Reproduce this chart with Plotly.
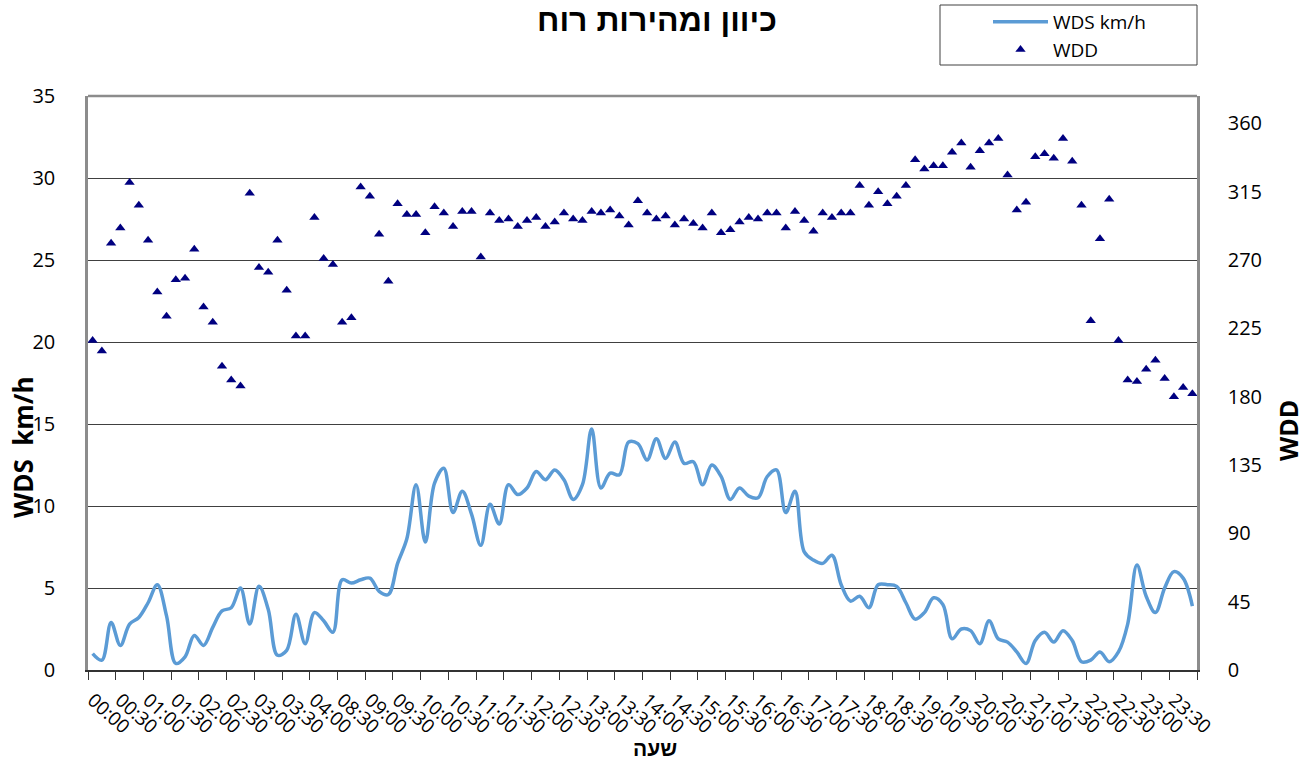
import plotly.graph_objects as go

# 10-minute categories (data gap between 04:20 and 08:30)
times = [
    "00:00", "00:10", "00:20", "00:30", "00:40", "00:50", "01:00", "01:10", "01:20",
    "01:30", "01:40", "01:50", "02:00", "02:10", "02:20", "02:30", "02:40", "02:50",
    "03:00", "03:10", "03:20", "03:30", "03:40", "03:50", "04:00", "04:10", "04:20",
    "08:30", "08:40", "08:50", "09:00", "09:10", "09:20", "09:30", "09:40", "09:50",
    "10:00", "10:10", "10:20", "10:30", "10:40", "10:50", "11:00", "11:10", "11:20",
    "11:30", "11:40", "11:50", "12:00", "12:10", "12:20", "12:30", "12:40", "12:50",
    "13:00", "13:10", "13:20", "13:30", "13:40", "13:50", "14:00", "14:10", "14:20",
    "14:30", "14:40", "14:50", "15:00", "15:10", "15:20", "15:30", "15:40", "15:50",
    "16:00", "16:10", "16:20", "16:30", "16:40", "16:50", "17:00", "17:10", "17:20",
    "17:30", "17:40", "17:50", "18:00", "18:10", "18:20", "18:30", "18:40", "18:50",
    "19:00", "19:10", "19:20", "19:30", "19:40", "19:50", "20:00", "20:10", "20:20",
    "20:30", "20:40", "20:50", "21:00", "21:10", "21:20", "21:30", "21:40", "21:50",
    "22:00", "22:10", "22:20", "22:30", "22:40", "22:50", "23:00", "23:10", "23:20",
    "23:30", "23:40", "23:50",
]

# Wind speed, km/h (left axis)
wds = [
    1.0, 0.6, 2.9, 1.5, 2.8, 3.2, 4.1, 5.2, 3.3, 0.4,
    0.8, 2.1, 1.5, 2.6, 3.6, 3.8, 5.0, 2.8, 5.1, 3.7,
    0.9, 1.2, 3.4, 1.6, 3.5, 3.0, 2.3, 5.5, 5.3, 5.5,
    5.6, 4.8, 4.6, 6.5, 8.0, 11.3, 7.8, 11.4, 12.3, 9.6,
    10.9, 9.5, 7.6, 10.1, 8.9, 11.3, 10.7, 11.1, 12.1, 11.6,
    12.2, 11.6, 10.4, 11.3, 14.7, 11.1, 12.0, 11.9, 13.9, 13.8,
    12.8, 14.1, 12.9, 13.9, 12.6, 12.7, 11.3, 12.5, 11.8, 10.4,
    11.1, 10.6, 10.5, 11.8, 12.2, 9.6, 10.9, 7.2, 6.7, 6.5,
    7.0, 5.2, 4.2, 4.5, 3.8, 5.2, 5.2, 5.1, 4.1, 3.1,
    3.5, 4.4, 4.0, 1.9, 2.5, 2.4, 1.6, 3.0, 1.9, 1.7,
    1.1, 0.4, 1.8, 2.3, 1.7, 2.4, 1.8, 0.5, 0.6, 1.1,
    0.5, 1.1, 2.8, 6.4, 4.5, 3.5, 5.0, 6.0, 5.6, 3.9,
]

# Wind direction, degrees (right axis)
wdd = [
    217, 210, 281, 291, 321, 306, 283, 249, 233, 257,
    258, 277, 239, 229, 200, 191, 187, 314, 265, 262,
    283, 250, 220, 220, 298, 271, 267, 229, 232, 318,
    312, 287, 256, 307, 300, 300, 288, 305, 301, 292,
    302, 302, 272, 301, 296, 297, 292, 296, 298, 292,
    295, 301, 297, 296, 302, 301, 303, 299, 293, 309,
    301, 297, 299, 293, 297, 294, 291, 301, 288, 290,
    295, 298, 297, 301, 301, 291, 302, 296, 289, 301,
    298, 301, 301, 319, 306, 315, 307, 312, 319, 336,
    330, 332, 332, 341, 347, 331, 342, 347, 350, 326,
    303, 308, 338, 340, 337, 350, 335, 306, 230, 284,
    310, 217, 191, 190, 198, 204, 192, 180, 186, 182,
]

left_ticks = [0, 5, 10, 15, 20, 25, 30, 35]
right_ticks = [0, 45, 90, 135, 180, 225, 270, 315, 360]

FONT = "Open Sans, DejaVu Sans, sans-serif"
HEB = "Liberation Sans, DejaVu Sans, sans-serif"
FRAME = "#8c8c8c"

W, H = 1312, 760
L, R, T, B = 88, 1197, 96, 670


def px(x):
    return (x - L) / (R - L)


def py(y):
    return (B - y) / (B - T)


fig = go.Figure()
fig.add_trace(go.Scatter(
    x=times, y=wds, name="WDS km/h", mode="lines", yaxis="y",
    line=dict(color="#5B9BD5", width=3.5, shape="spline", smoothing=1.0),
))
fig.add_trace(go.Scatter(
    x=times, y=wdd, name="WDD", mode="markers", yaxis="y2",
    marker=dict(symbol="triangle-up", color="#000080", size=9),
))

fig.update_layout(
    width=W, height=H, autosize=False,
    margin=dict(l=L, r=W - R, t=T, b=H - B, autoexpand=False),
    paper_bgcolor="white", plot_bgcolor="white",
    showlegend=True,
    legend=dict(
        x=px(988), y=py(3), xanchor="left", yanchor="top",
        bgcolor="rgba(0,0,0,0)", borderwidth=0,
        font=dict(family=FONT, size=19, color="black"),
        itemwidth=55, tracegroupgap=0,
    ),
    xaxis=dict(
        type="category", categoryorder="array", categoryarray=times,
        range=[-0.5, len(times) - 0.5],
        tickmode="linear", tick0=0, dtick=3, tickson="boundaries",
        ticks="outside", ticklen=8, tickcolor="#333333", tickwidth=1,
        tickangle=42, ticklabelstandoff=10,
        tickfont=dict(family=FONT, size=19, color="black"),
        showline=True, linecolor="#333333", linewidth=1.5,
        showgrid=False, zeroline=False,
    ),
    yaxis=dict(
        range=[0, 35], tickvals=left_ticks,
        showgrid=True, gridcolor="#404040", gridwidth=1,
        showline=True, linecolor=FRAME, linewidth=2.5,
        ticks="", ticklabelstandoff=26,
        tickfont=dict(family=FONT, size=20, color="black"),
        zeroline=False,
    ),
    yaxis2=dict(
        overlaying="y", side="right", range=[0, 378], tickvals=right_ticks,
        showgrid=False, showline=True, linecolor=FRAME, linewidth=2.5,
        ticks="", ticklabelstandoff=24,
        tickfont=dict(family=FONT, size=20, color="black"),
        zeroline=False,
    ),
    shapes=[
        dict(type="line", xref="paper", yref="paper", x0=0, x1=1, y0=1, y1=1,
             line=dict(color=FRAME, width=2.5)),
        dict(type="rect", xref="paper", yref="paper",
             x0=px(940), x1=px(1197), y0=py(65), y1=py(5),
             line=dict(color="#404040", width=1), fillcolor="rgba(0,0,0,0)"),
    ],
    annotations=[
        dict(text="<b>כיוון ומהירות רוח</b>", xref="paper", yref="paper",
             x=px(657), y=py(0), xanchor="center", yanchor="top",
             showarrow=False, font=dict(family=HEB, size=32, color="black")),
        dict(text="<b>WDS  km/h</b>", xref="paper", yref="paper",
             x=px(23), y=py(447), xanchor="center", yanchor="middle",
             textangle=-90, showarrow=False,
             font=dict(family=FONT, size=26, color="black")),
        dict(text="<b>WDD</b>", xref="paper", yref="paper",
             x=px(1288), y=py(430), xanchor="center", yanchor="middle",
             textangle=-90, showarrow=False,
             font=dict(family=FONT, size=25, color="black")),
        dict(text="<b>שעה</b>", xref="paper", yref="paper",
             x=px(655), y=py(748), xanchor="center", yanchor="middle",
             showarrow=False, font=dict(family=HEB, size=21, color="black")),
    ],
)

fig.write_html(
    "out.html",
    config={"displayModeBar": False},
    post_script="document.body.style.margin='0px';",
)
